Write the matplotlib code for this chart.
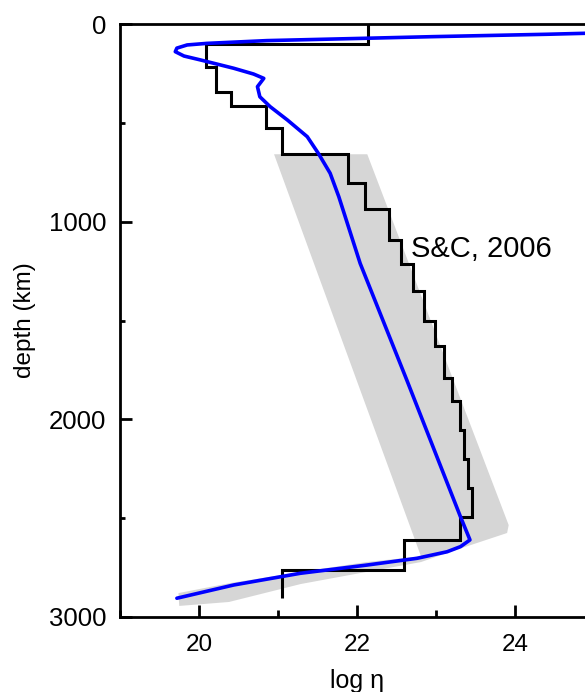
import numpy as np
import matplotlib.pyplot as plt
from matplotlib.ticker import MultipleLocator

plt.rcParams['font.family'] = ['Liberation Sans', 'DejaVu Sans']

# S&C 2006 layered viscosity profile: layer boundaries (km) and log viscosity per layer
sc_edges = [0, 103, 216, 346, 413, 525, 659, 803, 936, 1093, 1216, 1351, 1501,
            1627, 1793, 1907, 2054, 2202, 2349, 2493, 2610, 2762, 2905]
sc_logeta = [22.14, 20.09, 20.22, 20.40, 20.85, 21.05, 21.89, 22.10, 22.40, 22.56,
             22.71, 22.85, 22.99, 23.10, 23.20, 23.31, 23.35, 23.40, 23.45, 23.30,
             22.59, 21.05]

# continuous viscosity profile (blue)
prof_logeta = [25.30, 24.89, 24.40, 22.96, 22.13, 20.86, 20.10, 19.85, 19.72, 19.70,
               19.81, 20.02, 20.19, 20.44, 20.69, 20.82, 20.74, 20.77, 20.90, 21.12,
               21.37, 21.51, 21.66, 21.77, 22.04, 22.63, 23.31, 23.43, 23.31, 23.14,
               22.76, 22.13, 21.28, 20.44, 19.72]
prof_depth = [44, 47, 52, 64, 72, 84, 98, 106, 122, 140,
              162, 182, 199, 224, 253, 275, 317, 368, 418, 486,
              570, 654, 755, 874, 1211, 1801, 2493, 2610, 2644, 2670,
              2703, 2737, 2779, 2838, 2905]

# uncertainty envelope (grey)
band_logeta = [20.95, 22.13, 23.92, 23.90, 23.44, 23.14, 22.81, 22.12, 21.29, 20.38,
               19.75, 19.74, 20.40, 21.29, 22.12, 22.81]
band_depth = [659, 659, 2535, 2575, 2636, 2676, 2722, 2772, 2833, 2924,
              2944, 2879, 2828, 2772, 2722, 2693]

fig = plt.figure(figsize=(5.85, 6.92), dpi=100)
ax = fig.add_axes([120 / 585, 75 / 692, 474 / 585, 593 / 692])

ax.fill(band_logeta, band_depth, color='#d6d6d6', lw=0, zorder=1)
ax.stairs(sc_logeta, sc_edges, orientation='horizontal', baseline=None,
          color='black', lw=2.2, zorder=2)
ax.plot(prof_logeta, prof_depth, color='#0000ff', lw=2.6, zorder=3,
        solid_joinstyle='round', solid_capstyle='round')

ax.text(22.68, 1138, 'S&C, 2006', fontsize=21, ha='left', va='center', zorder=4)

ax.set_xlim(19, 25)
ax.set_ylim(3000, 0)
ax.xaxis.set_major_locator(MultipleLocator(2))
ax.xaxis.set_minor_locator(MultipleLocator(1))
ax.yaxis.set_major_locator(MultipleLocator(1000))
ax.yaxis.set_minor_locator(MultipleLocator(500))

ax.spines['right'].set_visible(False)
for s in ['left', 'top', 'bottom']:
    ax.spines[s].set_linewidth(2)

ax.tick_params(axis='both', which='both', direction='in', width=2,
               top=False, right=False)
ax.tick_params(axis='x', which='major', length=8.5, pad=12.5, labelsize=17.5)
ax.tick_params(axis='x', which='minor', length=5)
ax.tick_params(axis='y', which='major', length=8.5, pad=10, labelsize=18.5)
ax.tick_params(axis='y', which='minor', length=3.5)

ax.set_xlabel('log η', fontsize=18, labelpad=9)
ax.set_ylabel('depth (km)', fontsize=17.5, labelpad=9)

fig.savefig('out.png', dpi=100)
